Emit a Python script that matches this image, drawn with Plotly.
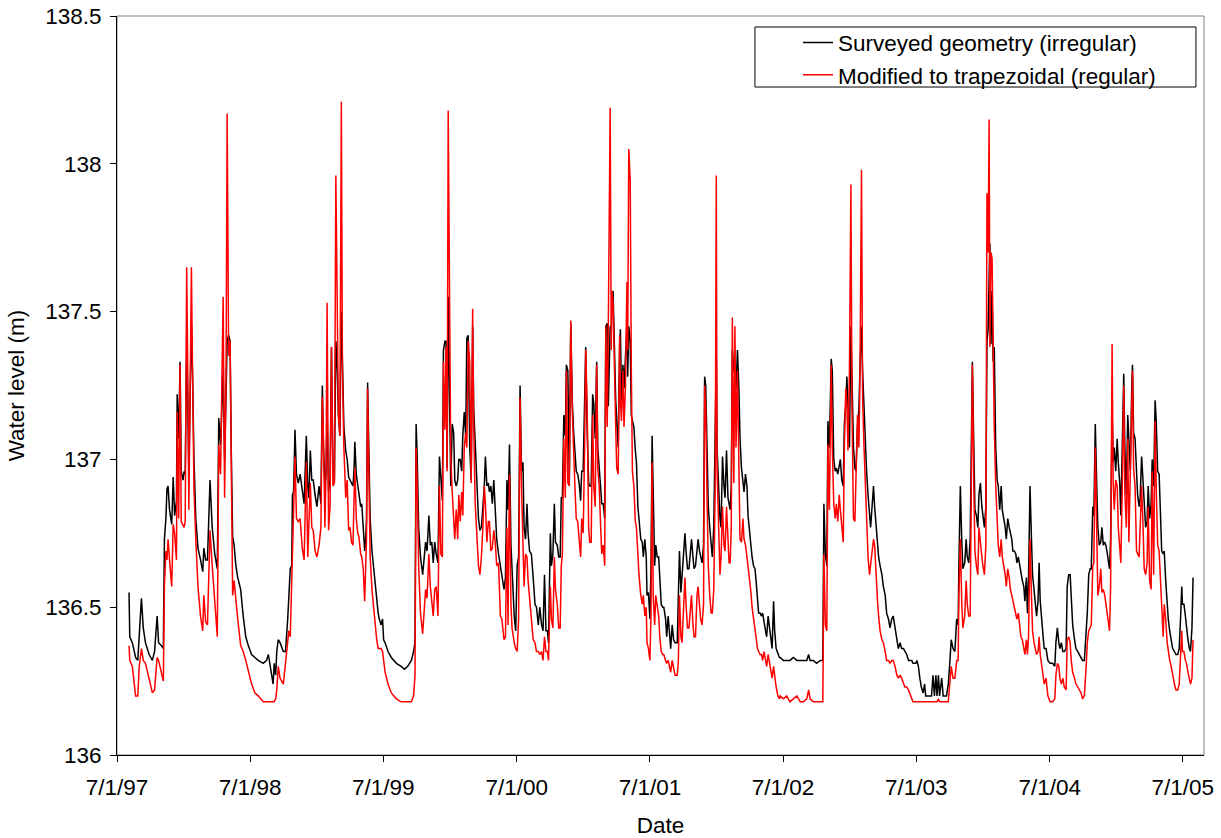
import pandas as pd
import plotly.graph_objects as go

START_DATE = "1997-07-01"

# Days since 1 July 1997, water level (m) for the two channel geometries, per hydrological year
days_9798 = [33,35,42,51,57,61,67,72,78,88,97,103,110,114,122,127,130,134,137,140,144,150,154,158,163,165,169,173,176,181,184,187,191,194,197,201,204,207,211,216,222,229,235,238,243,248,255,261,268,275,279,284,288,291,295,299,302,306,310,313,317,321,326,331,339,346,353,360]
surv_9798 = [136.55,136.40,136.38,136.33,136.32,136.40,136.53,136.43,136.38,136.34,136.32,136.35,136.47,136.38,136.37,136.36,136.73,136.80,136.90,136.91,136.83,136.78,136.94,136.81,136.86,137.22,137.07,137.33,136.96,136.93,136.96,136.95,137.40,137.20,136.95,137.25,137.45,137.30,137.00,136.80,136.70,136.66,136.62,136.70,136.66,136.66,136.93,136.77,136.68,136.63,137.14,137.05,137.20,137.30,137.00,137.20,137.40,137.42,137.40,137.05,136.74,136.71,136.64,136.60,136.56,136.47,136.40,136.37]
trap_9798 = [136.37,136.32,136.30,136.20,136.20,136.30,136.36,136.32,136.31,136.26,136.21,136.22,136.33,136.32,136.27,136.25,136.57,136.69,136.66,136.73,136.66,136.57,136.78,136.75,136.66,137.16,136.80,137.32,136.79,136.78,136.77,136.79,137.65,137.30,136.83,137.30,137.65,137.30,136.90,136.73,136.57,136.47,136.42,136.54,136.45,136.44,136.76,136.64,136.51,136.40,137.05,136.95,137.30,137.55,136.87,137.30,138.17,137.35,137.40,136.90,136.54,136.59,136.51,136.46,136.37,136.35,136.32,136.28]

days_9899 = [369,378,387,401,410,415,419,424,428,431,435,438,442,447,456,462,468,471,475,479,481,484,488,492,497,502,508,513,519,523,526,530,534,538,543,548,554,559,563,566,570,573,576,580,584,588,592,596,600,604,607,611,615,618,622,627,631,635,639,643,647,650,652,656,660,663,668,671,675,679,681,684,687,691,694,699,703,707,712,716,719]
surv_9899 = [136.34,136.33,136.32,136.31,136.32,136.34,136.30,136.27,136.24,136.31,136.27,136.35,136.39,136.38,136.35,136.35,136.46,136.55,136.63,136.64,136.88,136.89,137.10,136.95,136.92,136.95,136.89,136.85,137.08,136.91,136.87,137.03,136.93,136.93,136.88,136.84,136.91,136.85,137.25,137.04,136.91,136.95,137.15,136.89,136.93,137.38,136.97,136.93,137.40,137.30,137.15,137.08,137.50,137.30,137.11,137.03,137.00,136.94,136.93,136.92,136.91,136.97,137.06,136.95,136.91,136.89,136.84,136.85,136.76,136.69,136.72,136.79,137.26,137.04,136.80,136.69,136.64,136.57,136.51,136.48,136.46]
trap_9899 = [136.24,136.21,136.20,136.18,136.18,136.18,136.18,136.18,136.18,136.18,136.19,136.22,136.30,136.26,136.24,136.31,136.39,136.42,136.40,136.57,136.72,136.80,137.01,136.80,136.79,136.80,136.70,136.66,136.99,136.67,136.76,136.92,136.77,136.76,136.69,136.67,136.71,136.77,137.21,137.07,136.77,136.95,137.53,136.76,136.84,137.38,136.91,136.92,137.96,137.44,137.15,137.08,138.21,137.30,137.04,136.87,136.93,136.76,136.77,136.72,136.71,136.88,136.97,136.80,136.75,136.74,136.68,136.67,136.63,136.52,136.65,136.73,137.24,136.97,136.67,136.56,136.51,136.44,136.39,136.36,136.36]

days_9900 = [724,728,731,735,743,752,766,779,788,797,807,813,817,820,823,827,832,838,843,846,850,855,859,863,867,871,875,880,884,888,892,895,899,902,905,908,912,915,919,923,926,930,934,937,941,945,948,952,956,959,963,967,971,975,978,982,987,991,995,999,1003,1007,1010,1014,1018,1021,1025,1029,1033,1037,1041,1046,1051,1055,1061,1065,1069,1072,1076,1080,1083,1087]
surv_9900 = [136.44,136.46,136.39,136.38,136.35,136.33,136.31,136.30,136.29,136.30,136.32,136.35,136.38,137.12,137.01,136.77,136.67,136.61,136.68,136.72,136.69,136.81,136.71,136.72,136.65,136.72,136.68,136.65,137.01,136.91,136.86,137.37,137.40,137.40,136.97,137.55,137.04,136.91,137.12,137.09,136.93,136.91,136.93,137.00,137.00,136.96,137.08,137.16,137.08,137.41,137.42,137.04,136.93,137.45,137.17,137.04,136.91,136.80,136.76,136.77,136.84,136.91,137.01,136.91,136.92,136.89,136.91,136.85,136.93,136.81,136.73,136.68,136.64,136.61,136.56,136.60,136.93,136.83,137.05,136.71,136.61,136.48]
trap_9900 = [136.36,136.35,136.32,136.28,136.24,136.21,136.19,136.18,136.18,136.18,136.18,136.20,136.27,137.04,136.91,136.64,136.48,136.41,136.52,136.56,136.53,136.68,136.57,136.52,136.47,136.56,136.57,136.47,136.91,136.68,136.67,137.33,137.10,137.38,136.96,138.18,137.30,137.00,136.89,136.80,136.73,136.83,136.73,136.88,136.79,136.89,136.81,137.04,137.09,137.04,137.40,137.33,136.92,137.51,137.11,136.85,136.75,136.64,136.61,136.67,136.77,136.91,136.85,136.72,136.79,136.79,136.69,136.70,136.76,136.72,136.64,136.65,136.47,136.46,136.39,136.40,136.77,136.44,136.95,136.51,136.43,136.38]

days_0001 = [1089,1093,1097,1101,1105,1109,1113,1116,1120,1124,1127,1131,1136,1141,1146,1150,1155,1159,1164,1168,1172,1176,1180,1183,1188,1191,1195,1199,1202,1207,1211,1215,1218,1221,1225,1229,1232,1236,1240,1244,1248,1252,1255,1259,1263,1267,1271,1274,1278,1282,1285,1289,1293,1296,1300,1304,1307,1311,1315,1318,1322,1326,1329,1333,1337,1340,1344,1347,1352,1355,1357,1360,1363,1367,1370,1374,1378,1380,1383,1387,1390,1394,1398,1400,1403,1407,1410,1413,1417,1421,1424,1428,1431,1436,1440,1443,1447,1451]
surv_0001 = [136.47,136.42,136.64,136.67,137.25,136.96,136.99,136.77,136.73,136.85,136.75,136.69,136.68,136.60,136.51,136.50,136.44,136.50,136.44,136.42,136.61,136.42,136.42,136.38,136.75,136.64,136.68,136.85,136.72,136.71,136.67,136.67,136.87,136.87,137.15,137.08,137.32,137.30,136.93,137.46,137.20,137.09,137.03,136.96,136.95,136.92,136.86,136.96,136.96,137.20,137.38,137.10,136.92,136.91,136.91,137.22,137.19,137.07,137.33,137.04,136.96,136.91,136.85,136.85,136.80,137.45,137.46,137.18,137.45,137.44,137.53,137.57,137.37,137.21,137.13,137.04,137.39,137.44,137.20,137.32,137.24,137.33,137.46,137.28,137.45,137.40,137.15,137.13,137.11,137.03,136.99,136.84,136.80,136.73,136.72,136.67,136.73,136.67]
trap_0001 = [136.38,136.36,136.35,136.46,137.21,136.91,136.68,136.57,136.68,136.67,136.59,136.54,136.46,136.39,136.38,136.35,136.35,136.34,136.35,136.32,136.40,136.35,136.35,136.32,136.57,136.46,136.43,136.67,136.56,136.51,136.43,136.43,136.64,136.68,137.07,136.87,137.30,136.92,136.91,137.47,137.17,136.97,136.92,136.80,136.79,136.73,136.67,136.80,136.75,137.04,137.37,137.17,136.77,136.72,136.72,137.15,136.91,136.84,137.32,136.97,136.91,136.77,136.68,136.71,136.64,137.45,137.11,137.46,138.19,137.37,137.57,137.53,137.30,137.12,136.97,136.95,137.42,137.20,137.13,137.30,137.11,137.25,137.60,137.37,138.05,137.94,137.30,136.96,136.91,136.79,136.77,136.67,136.61,136.54,136.51,136.54,136.47,136.50]

days_0102 = [1453,1457,1461,1464,1467,1470,1474,1477,1481,1485,1488,1492,1496,1499,1504,1507,1511,1515,1518,1522,1526,1530,1536,1539,1542,1546,1549,1553,1557,1560,1564,1568,1571,1575,1579,1582,1586,1590,1593,1597,1600,1604,1608,1611,1614,1618,1621,1625,1629,1632,1636,1640,1643,1645,1649,1653,1656,1660,1664,1667,1671,1675,1678,1681,1684,1687,1691,1694,1697,1701,1705,1708,1712,1716,1719,1723,1727,1730,1734,1738,1741,1745,1749,1752,1756,1759,1763,1767,1770,1774,1778,1781,1785,1789,1792,1796,1800,1803,1807,1812,1816]
surv_0102 = [136.54,136.55,136.46,136.64,137.08,136.84,136.64,136.71,136.67,136.67,136.60,136.51,136.50,136.50,136.46,136.40,136.47,136.39,136.36,136.44,136.39,136.38,136.38,136.54,136.69,136.55,136.61,136.67,136.75,136.69,136.63,136.63,136.69,136.73,136.67,136.63,136.64,136.69,136.73,136.69,136.67,136.65,136.71,137.28,137.25,136.96,136.84,136.77,136.71,136.67,136.77,137.04,137.35,137.04,136.91,136.80,136.77,137.01,136.91,136.87,137.03,136.87,136.85,136.83,136.91,137.37,137.30,137.30,137.24,137.37,137.24,137.07,136.97,136.92,136.89,136.95,136.91,136.81,136.75,136.69,136.67,136.64,136.63,136.59,136.51,136.48,136.48,136.47,136.48,136.44,136.42,136.40,136.47,136.43,136.40,136.36,136.52,136.42,136.36,136.34,136.33]
trap_0102 = [136.38,136.36,136.32,136.48,136.99,136.54,136.44,136.54,136.51,136.47,136.40,136.35,136.34,136.34,136.32,136.31,136.32,136.30,136.28,136.32,136.30,136.27,136.27,136.32,136.54,136.40,136.38,136.51,136.60,136.51,136.43,136.43,136.47,136.54,136.44,136.40,136.40,136.54,136.57,136.51,136.46,136.44,136.51,137.25,137.17,136.84,136.64,136.54,136.48,136.48,136.56,136.91,137.96,136.97,136.75,136.61,136.67,136.84,136.71,136.69,136.84,136.71,136.65,136.65,136.77,137.48,136.92,137.45,137.04,137.30,136.91,136.73,136.72,136.80,136.73,136.71,136.67,136.64,136.60,136.55,136.50,136.46,136.43,136.40,136.36,136.35,136.34,136.34,136.32,136.35,136.31,136.30,136.34,136.31,136.28,136.26,136.30,136.26,136.23,136.20,136.19]

days_0203 = [1818,1827,1836,1845,1854,1864,1873,1882,1891,1896,1900,1909,1918,1928,1935,1938,1942,1946,1949,1953,1958,1961,1965,1969,1972,1976,1980,1983,1987,1991,1994,1998,2001,2004,2008,2012,2015,2019,2023,2026,2030,2034,2037,2041,2044,2048,2052,2055,2059,2063,2066,2070,2074,2077,2081,2085,2088,2092,2097,2101,2106,2110,2115,2119,2124,2128,2133,2138,2142,2147,2151,2156,2160,2165,2170,2179]
surv_0203 = [136.33,136.32,136.32,136.32,136.33,136.32,136.32,136.32,136.32,136.34,136.32,136.32,136.31,136.32,136.32,136.85,136.68,136.64,137.13,137.04,137.34,137.30,137.00,136.96,136.97,136.95,136.99,137.00,136.93,136.91,137.12,137.19,137.28,137.17,137.04,137.45,137.30,137.04,136.97,136.96,137.11,137.17,137.32,137.45,137.30,137.17,137.08,136.96,136.88,136.80,136.77,136.84,136.91,136.84,136.77,136.71,136.67,136.64,136.61,136.57,136.54,136.48,136.46,136.43,136.46,136.47,136.43,136.38,136.36,136.38,136.36,136.36,136.35,136.34,136.32,136.32]
trap_0203 = [136.20,136.19,136.20,136.18,136.19,136.20,136.18,136.18,136.19,136.22,136.19,136.18,136.18,136.18,136.18,136.68,136.44,136.42,137.05,136.83,137.32,137.04,136.85,136.80,136.85,136.79,136.88,136.83,136.77,136.72,137.04,137.24,137.19,137.03,137.30,137.93,137.17,136.80,136.79,136.91,137.15,137.04,137.30,137.98,137.21,137.04,136.91,136.77,136.67,136.61,136.64,136.69,136.73,136.71,136.60,136.52,136.47,136.42,136.39,136.38,136.35,136.32,136.32,136.31,136.32,136.32,136.30,136.27,136.26,136.27,136.26,136.24,136.23,136.23,136.22,136.19]

days_0304 = [2182,2190,2193,2197,2201,2205,2210,2214,2217,2224,2233,2237,2241,2245,2248,2252,2255,2261,2265,2274,2279,2283,2287,2292,2297,2302,2306,2308,2312,2316,2319,2324,2328,2331,2335,2339,2342,2345,2349,2352,2356,2360,2363,2367,2371,2374,2378,2382,2385,2388,2391,2393,2396,2399,2402,2405,2409,2413,2416,2420,2424,2427,2431,2435,2438,2442,2446,2449,2453,2456,2460,2464,2467,2471,2475,2478,2482,2486,2489,2493,2496,2499,2503,2507,2510,2514,2518,2521,2525,2528,2531,2535,2539,2542]
surv_0304 = [136.31,136.31,136.32,136.30,136.26,136.23,136.21,136.24,136.20,136.20,136.20,136.27,136.20,136.27,136.20,136.27,136.20,136.26,136.20,136.20,136.24,136.31,136.39,136.36,136.35,136.46,136.44,136.64,136.91,136.72,136.63,136.65,136.73,136.67,136.65,136.73,137.04,137.33,137.04,136.83,136.81,136.77,136.88,136.92,136.84,136.80,136.77,136.84,137.40,137.44,137.73,137.73,137.39,137.57,137.33,137.38,137.04,136.93,136.91,136.83,136.91,136.83,136.80,136.77,136.73,136.80,136.77,136.75,136.73,136.69,136.69,136.68,136.65,136.67,136.64,136.61,136.59,136.57,136.52,136.60,136.48,136.60,136.91,136.73,136.61,136.56,136.51,136.47,136.52,136.65,136.52,136.44,136.40,136.36]
trap_0304 = [136.18,136.18,136.18,136.18,136.18,136.18,136.18,136.18,136.18,136.18,136.18,136.18,136.18,136.18,136.18,136.19,136.18,136.18,136.18,136.18,136.18,136.24,136.30,136.26,136.26,136.32,136.32,136.54,136.73,136.51,136.43,136.47,136.59,136.51,136.47,136.47,136.91,137.32,136.91,136.69,136.64,136.61,136.77,136.71,136.67,136.64,136.61,136.71,137.90,137.70,138.15,137.38,137.70,137.68,137.33,137.11,136.91,136.77,136.71,136.67,136.73,136.67,136.64,136.61,136.57,136.63,136.60,136.56,136.54,136.52,136.50,136.47,136.46,136.48,136.44,136.40,136.39,136.36,136.34,136.39,136.34,136.40,136.73,136.54,136.42,136.38,136.35,136.34,136.35,136.40,136.34,136.30,136.26,136.24]

days_0405 = [2547,2552,2558,2565,2571,2574,2578,2582,2585,2589,2593,2597,2602,2605,2609,2613,2616,2620,2625,2629,2634,2638,2643,2647,2652,2657,2660,2664,2668,2671,2675,2678,2682,2686,2689,2693,2697,2700,2704,2708,2711,2715,2721,2724,2728,2731,2734,2738,2742,2745,2749,2752,2756,2760,2763,2767,2771,2774,2778,2782,2784,2787,2791,2795,2798,2802,2805,2809,2813,2816,2820,2824,2827,2831,2835,2838,2842,2846,2849,2853,2857,2860,2864,2868,2871,2875,2879,2882,2886,2890,2894,2899,2903,2908,2912,2916,2919,2921,2925,2929,2932,2936,2940,2943,2947,2950]
surv_0405 = [136.36,136.32,136.31,136.31,136.30,136.38,136.43,136.38,136.36,136.38,136.35,136.35,136.36,136.57,136.61,136.61,136.54,136.44,136.39,136.36,136.35,136.34,136.33,136.32,136.32,136.40,136.48,136.61,136.63,136.63,136.84,136.81,137.12,136.91,136.77,136.71,136.72,136.77,136.71,136.72,136.71,136.68,136.63,136.73,137.17,136.99,137.04,136.96,137.07,136.99,136.92,136.81,137.07,137.29,137.04,136.88,137.15,137.04,136.96,137.25,137.32,137.09,137.07,136.96,136.88,136.84,136.87,137.01,136.91,136.85,136.77,136.79,136.91,136.80,136.85,137.00,136.91,137.20,137.13,136.96,136.95,136.84,136.69,136.68,136.69,136.59,136.51,136.46,136.42,136.39,136.36,136.35,136.34,136.34,136.36,136.47,136.57,136.51,136.51,136.47,136.43,136.39,136.36,136.35,136.43,136.60]
trap_0405 = [136.26,136.20,136.18,136.18,136.19,136.27,136.31,136.30,136.26,136.24,136.26,136.23,136.22,136.39,136.40,136.38,136.32,136.28,136.26,136.24,136.23,136.22,136.21,136.19,136.20,136.30,136.38,136.42,136.43,136.44,136.64,136.65,137.04,136.71,136.54,136.57,136.63,136.55,136.56,136.54,136.51,136.47,136.42,136.57,137.39,136.92,136.83,136.93,136.91,136.77,136.71,136.65,136.91,137.25,136.89,136.77,137.07,136.72,136.96,137.29,137.30,136.97,136.91,136.69,136.68,136.67,136.77,136.91,136.77,136.63,136.61,136.65,136.84,136.59,136.56,136.96,136.61,137.13,136.91,136.71,136.69,136.60,136.52,136.40,136.51,136.46,136.38,136.35,136.32,136.30,136.27,136.24,136.22,136.22,136.24,136.32,136.42,136.35,136.35,136.32,136.31,136.28,136.26,136.24,136.26,136.39]

tick_dates = ["1997-07-01", "1998-07-01", "1999-07-01", "2000-07-01", "2001-07-01",
              "2002-07-01", "2003-07-01", "2004-07-01", "2005-07-01"]
tick_labels = ["7/1/97", "7/1/98", "7/1/99", "7/1/00", "7/1/01", "7/1/02", "7/1/03", "7/1/04", "7/1/05"]
y_ticks = [136, 136.5, 137, 137.5, 138, 138.5]
y_labels = ["136", "136.5", "137", "137.5", "138", "138.5"]

years = [
    (days_9798, surv_9798, trap_9798), (days_9899, surv_9899, trap_9899),
    (days_9900, surv_9900, trap_9900), (days_0001, surv_0001, trap_0001),
    (days_0102, surv_0102, trap_0102), (days_0203, surv_0203, trap_0203),
    (days_0304, surv_0304, trap_0304), (days_0405, surv_0405, trap_0405),
]
days, surveyed, trapezoidal = [], [], []
for d, s, t in years:
    n = min(len(d), len(s), len(t))
    days += d[:n]
    surveyed += s[:n]
    trapezoidal += t[:n]

dates = pd.Timestamp(START_DATE) + pd.to_timedelta(days, unit="D")

FONT = "Liberation Sans, Arial, sans-serif"
FS = 22.5

fig = go.Figure()
fig.add_trace(go.Scatter(x=dates, y=surveyed, mode="lines",
                         name="Surveyed geometry (irregular)",
                         line=dict(color="#000000", width=1.5)))
fig.add_trace(go.Scatter(x=dates, y=trapezoidal, mode="lines",
                         name="Modified to trapezoidal (regular)",
                         line=dict(color="#FF0000", width=1.5)))

# plot area on the page: x 117..1204 px, y 16..755 px (page body margin removed below)
fig.update_layout(
    width=1221, height=838,
    margin=dict(l=117, r=17, t=16, b=83, autoexpand=False),
    paper_bgcolor="white", plot_bgcolor="white",
    font=dict(family=FONT, size=FS, color="black"),
    showlegend=True,
    legend=dict(x=0.6265, xanchor="left", y=0.9926, yanchor="top",
                bgcolor="rgba(0,0,0,0)", borderwidth=0,
                font=dict(family=FONT, size=FS, color="black"),
                tracegroupgap=0),
    shapes=[
        dict(type="rect", xref="paper", yref="paper", x0=0, y0=0, x1=1, y1=1,
             line=dict(color="#808080", width=1), layer="below"),
        dict(type="rect", xref="paper", yref="paper", x0=0.5869, y0=0.9039, x1=0.9926, y1=0.9851,
             line=dict(color="black", width=1), fillcolor="white", layer="above"),
    ],
)
fig.update_xaxes(
    type="date", range=["1997-07-01", "2005-08-28"],
    tickvals=tick_dates, ticktext=tick_labels,
    showgrid=False, zeroline=False, automargin=False,
    showline=True, linecolor="black", linewidth=1,
    ticks="outside", ticklen=6, tickcolor="black", tickwidth=1,
    ticklabelstandoff=6, ticklabeloverflow="allow",
    tickfont=dict(family=FONT, size=FS, color="black"),
    title=dict(text="Date", font=dict(family=FONT, size=FS, color="black"), standoff=19),
)
fig.update_yaxes(
    range=[136, 138.5], tickvals=y_ticks, ticktext=y_labels,
    showgrid=False, zeroline=False, automargin=False,
    showline=True, linecolor="black", linewidth=1,
    ticks="outside", ticklen=6, tickcolor="black", tickwidth=1,
    ticklabelstandoff=4, ticklabeloverflow="allow",
    tickfont=dict(family=FONT, size=FS, color="black"),
    title=dict(text="Water level (m)", font=dict(family=FONT, size=FS, color="black"), standoff=14),
)

fig.write_html("out.html", config={"displayModeBar": False},
               post_script="document.body.style.margin='0px';")
